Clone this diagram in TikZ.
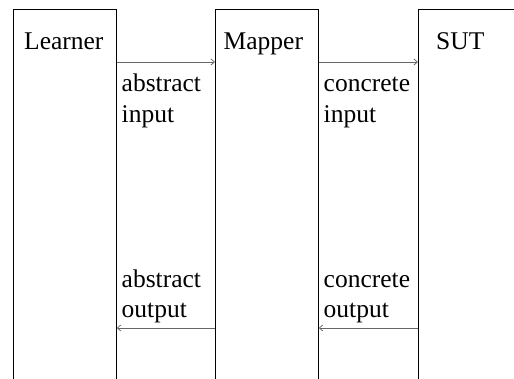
\documentclass[tikz,border=0pt]{standalone}
\usepackage{fontspec}
\setmainfont{Liberation Serif}
\usetikzlibrary{arrows.meta}
\begin{document}
\begin{tikzpicture}[x=1pt,y=1pt,
  every node/.style={font=\fontsize{25.5}{30.5}\selectfont},
  lane/.style={draw=black,line width=0.75pt,rectangle,anchor=north west,
    minimum width=#1,minimum height=420pt,inner sep=0pt},
  lbl/.style={anchor=base west,inner sep=0pt,align=left},
  msg/.style={draw=black!60,line width=0.75pt,
    -{Straight Barb[length=3.5pt,width=6pt]}}]
\useasboundingbox (0,0) rectangle (514,-379);
\clip (0,0) rectangle (514,-379);
% lifeline boxes, open at the bottom
\node[lane=103pt] (learner) at (13,-9.5) {};
\node[lane=103pt] (mapper) at (215,-9.5) {};
\node[lane=140pt] (sut) at (418,-9.5) {};
% titles
\node[lbl] (tl) at (24,-50) {Learner};
\node[lbl] (tm) at (223.5,-50) {Mapper};
\node[lbl] (ts) at (436,-50) {SUT};
% message heights
\coordinate (yin) at (0,-62);
\coordinate (yout) at (0,-328);
\draw[msg] (learner.east |- yin) -- (mapper.west |- yin);
\draw[msg] (mapper.east |- yin) -- (sut.west |- yin);
\draw[msg] (mapper.west |- yout) -- (learner.east |- yout);
\draw[msg] (sut.west |- yout) -- (mapper.east |- yout);
% message labels (base anchor sits on the last line)
\node[lbl] (ai) at (121.5,-122.5) {abstract\\input};
\node[lbl] (ci) at (323.5,-122.5) {concrete\\input};
\node[lbl] (ao) at (121.5,-318) {abstract\\output};
\node[lbl] (co) at (323.5,-318) {concrete\\output};
\end{tikzpicture}
\end{document}
